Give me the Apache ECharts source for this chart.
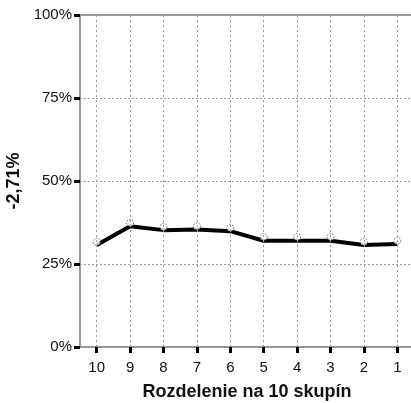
<!DOCTYPE html>
<html><head><meta charset="utf-8">
<script src="https://cdn.jsdelivr.net/npm/echarts@6/dist/echarts.min.js"></script>
<style>html,body{margin:0;padding:0;background:#fff}#c{width:411px;height:403px}</style>
</head><body><div id="c"></div>
<script>
const categories = ['10','9','8','7','6','5','4','3','2','1'];
const lineValues = [30.7, 36.4, 35.2, 35.4, 34.9, 32.0, 32.0, 32.0, 30.7, 31.0];
const markerValues = [31.7, 37.4, 36.2, 36.4, 35.9, 33.2, 33.2, 33.2, 31.7, 32.0];
const yTicks = [0, 25, 50, 75, 100];
const yName = '-2,71%';
const xName = 'Rozdelenie na 10 skupín';

const font = 'Liberation Sans, Arial, sans-serif';
const chart = echarts.init(document.getElementById('c'));
chart.setOption({
  animation: false,
  grid: { left: 80, right: -3, top: 15, bottom: 56, containLabel: false, outerBoundsMode: 'none' },
  xAxis: {
    type: 'category', data: categories, boundaryGap: true,
    name: xName, nameLocation: 'middle', nameGap: 36,
    nameTextStyle: { fontFamily: font, fontWeight: 'bold', fontSize: 18, color: '#111' },
    axisLine: { lineStyle: { color: '#999', width: 2 } },
    axisTick: { show: true, interval: 0, alignWithLabel: true, length: 6, lineStyle: { color: '#000', width: 3 } },
    axisLabel: { fontFamily: font, fontSize: 15, color: '#111', margin: 13, interval: 0 },
    splitLine: { show: false }
  },
  yAxis: {
    type: 'value', min: 0, max: 100, interval: 25,
    name: yName, nameLocation: 'middle', nameGap: 54, nameRotate: 90,
    nameTextStyle: { fontFamily: font, fontWeight: 'bold', fontSize: 18, color: '#111' },
    axisLine: { show: true, lineStyle: { color: '#999', width: 2 } },
    axisTick: { show: true, length: 6, lineStyle: { color: '#000', width: 3 } },
    axisLabel: { fontFamily: font, fontSize: 15, color: '#111', margin: 8,
      formatter: v => yTicks.includes(v) ? v + '%' : '' },
    splitLine: { show: true, lineStyle: { color: '#999', type: [2, 2], width: 1 } }
  },
  series: [
    {
      type: 'line', data: lineValues, symbol: 'none', silent: true, z: 3,
      lineStyle: { color: '#000', width: 4 },
      markLine: {
        silent: true, symbol: 'none', label: { show: false },
        lineStyle: { color: '#999', type: [2, 3], width: 1 },
        data: categories.map(c => ({ xAxis: c })).concat([{ yAxis: 100, lineStyle: { type: 'solid', color: '#999', width: 2 } }])
      }
    },
    {
      type: 'scatter', data: markerValues, symbol: 'circle', symbolSize: 7, z: 4, silent: true,
      itemStyle: { color: '#fff', borderColor: '#444', borderWidth: 1, borderType: [1.5, 1.5] }
    }
  ]
});
</script></body></html>
